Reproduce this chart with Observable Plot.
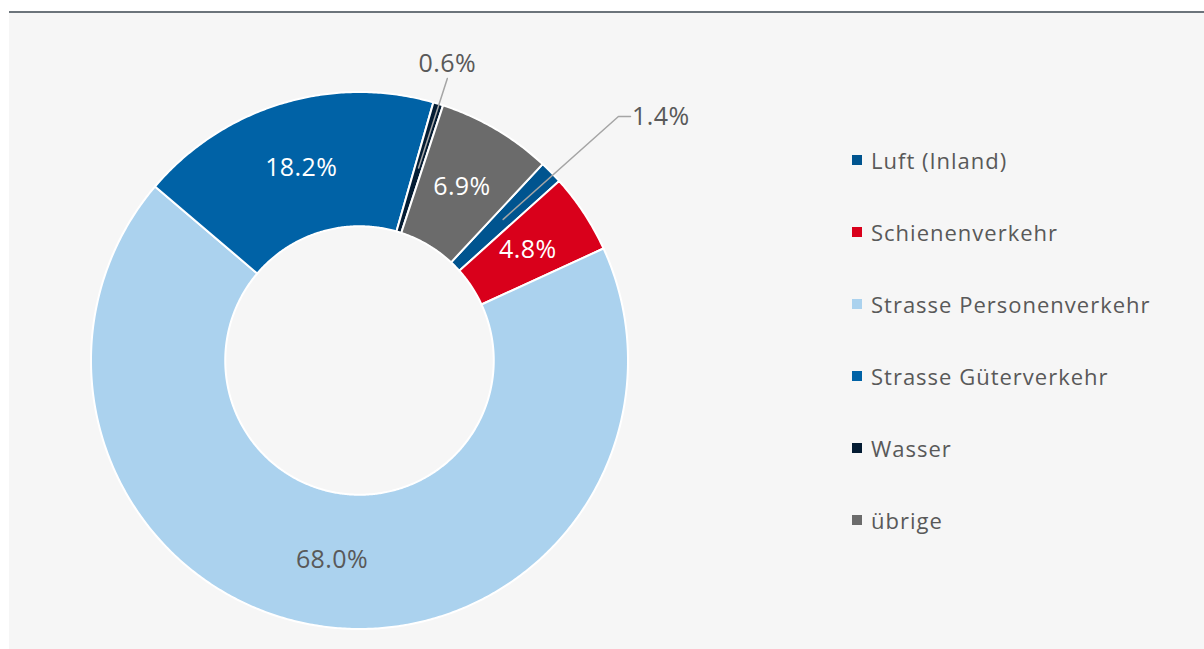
<!DOCTYPE html>
<html>
<head>
<meta charset="utf-8">
<script src="https://cdn.jsdelivr.net/npm/d3@7"></script>
<script src="https://cdn.jsdelivr.net/npm/@observablehq/plot@0.6"></script>
<style>
  html, body { margin: 0; padding: 0; background: #ffffff; width: 1204px; height: 649px; overflow: hidden; }
  #panel { position: absolute; left: 9px; top: 11px; width: 1195px; height: 636px; background: #f6f6f6; border-top: 2px solid #6c747b; }
  #chart { position: absolute; left: 0; top: 0; }
  #chart svg text { letter-spacing: 0.4px; }
  #legend { position: absolute; left: 852px; top: 146px; font-family: "Open Sans", sans-serif; font-size: 22px; color: #595959; }
  .item { height: 72px; display: flex; align-items: flex-start; }
  .item .sw { width: 10px; height: 10px; margin-top: 9px; margin-right: 9px; flex: none; }
  .item span { line-height: 28px; letter-spacing: 1px; }
</style>
</head>
<body>
<div id="panel"></div>
<div id="chart"></div>
<div id="legend"></div>
<script>
// ---- data ----
const categories = ["Luft (Inland)", "Schienenverkehr", "Strasse Personenverkehr", "Strasse Güterverkehr", "Wasser", "übrige"];
const shares = [1.4, 4.8, 68.0, 18.2, 0.6, 6.9];
const shareLabels = ["1.4%", "4.8%", "68.0%", "18.2%", "0.6%", "6.9%"];

// ---- styles / layout ----
const colors = ["#00548f", "#d9001b", "#abd2ee", "#0062a6", "#041c33", "#6b6b6b"];
const startAngle = 43;      // degrees clockwise from 12 o'clock
const innerR = 0.5, outerR = 1;
const insideLabelColor = {"Schienenverkehr": "white", "Strasse Güterverkehr": "white", "übrige": "white", "Strasse Personenverkehr": "#595959"};
const outsideLabels = {
  "Wasser": {angle: 17.3, r: 1.10, tail: 0, anchor: "middle"},
  "Luft (Inland)": {angle: 46.7, r: 1.325, tail: 0.045, anchor: "start"}
};

const total = d3.sum(shares);
const rad = a => a * Math.PI / 180;
const pt = (a, r) => [r * Math.sin(rad(a)), r * Math.cos(rad(a))];

let acc = startAngle;
const slices = categories.map((cat, i) => {
  const a0 = acc, a1 = acc + shares[i] / total * 360;
  acc = a1;
  return {cat, a0, a1, mid: (a0 + a1) / 2, label: shareLabels[i]};
});

// polygon points for every slice (outer arc, then inner arc back)
const polys = [];
for (const s of slices) {
  const n = Math.max(2, Math.ceil((s.a1 - s.a0) / 0.5));
  for (let k = 0; k <= n; k++) {
    const a = s.a0 + (s.a1 - s.a0) * k / n;
    const [x, y] = pt(a, outerR);
    polys.push({cat: s.cat, x, y});
  }
  for (let k = n; k >= 0; k--) {
    const a = s.a0 + (s.a1 - s.a0) * k / n;
    const [x, y] = pt(a, innerR);
    polys.push({cat: s.cat, x, y});
  }
}

const midR = (innerR + outerR) / 2;
const inside = slices.filter(s => !outsideLabels[s.cat]).map(s => {
  const [x, y] = pt(s.mid, midR);
  return {x, y, text: s.label, color: insideLabelColor[s.cat]};
});

const leaders = [];
const outside = [];
for (const s of slices) {
  const o = outsideLabels[s.cat];
  if (!o) continue;
  const [x0, y0] = pt(s.mid, midR);
  const [x1, y1] = pt(o.angle, o.r);
  leaders.push({cat: s.cat, x: x0, y: y0});
  leaders.push({cat: s.cat, x: x1, y: y1});
  leaders.push({cat: s.cat, x: x1 + o.tail, y: y1});
  outside.push({x: x1 + o.tail + (o.tail ? 0.006 : 0), y: y1, text: s.label, anchor: o.anchor});
}

const font = "Open Sans, sans-serif";
const fs = 25;
const chart = Plot.plot({
  width: 1204,
  height: 649,
  marginLeft: 90.5,
  marginRight: 576.5,
  marginTop: 91.5,
  marginBottom: 20.5,
  style: {background: "transparent", fontFamily: font},
  x: {domain: [-1, 1], axis: null},
  y: {domain: [-1, 1], axis: null},
  color: {domain: categories, range: colors},
  marks: [
    Plot.line(polys, {x: "x", y: "y", z: "cat", fill: "cat", stroke: "white", strokeWidth: 2, curve: "linear-closed"}),
    Plot.line(leaders, {x: "x", y: "y", z: "cat", stroke: "#a5a5a5", strokeWidth: 1.5}),
    Plot.text(inside.filter(d => d.color === "white"), {x: "x", y: "y", text: "text", fill: "white", fontSize: fs, fontFamily: font}),
    Plot.text(inside.filter(d => d.color !== "white"), {x: "x", y: "y", text: "text", fill: "#595959", fontSize: fs, fontFamily: font}),
    Plot.text(outside.filter(d => d.anchor === "middle"), {x: "x", y: "y", text: "text", dy: -15, fill: "#595959", fontSize: fs, fontFamily: font, textAnchor: "middle"}),
    Plot.text(outside.filter(d => d.anchor === "start"), {x: "x", y: "y", text: "text", fill: "#595959", fontSize: fs, fontFamily: font, textAnchor: "start"})
  ]
});
document.getElementById("chart").appendChild(chart);

// legend
const legend = document.getElementById("legend");
categories.forEach((c, i) => {
  const row = document.createElement("div");
  row.className = "item";
  const sw = document.createElement("div");
  sw.className = "sw";
  sw.style.background = colors[i];
  const t = document.createElement("span");
  t.textContent = c;
  row.appendChild(sw); row.appendChild(t);
  legend.appendChild(row);
});
</script>
</body>
</html>
